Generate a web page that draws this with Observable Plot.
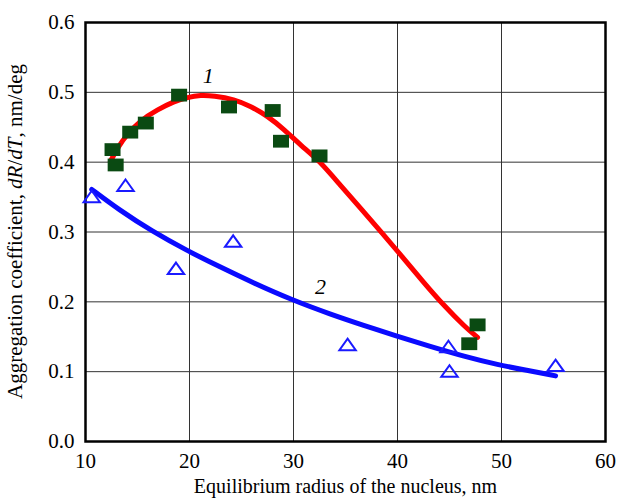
<!DOCTYPE html>
<html><head><meta charset="utf-8">
<script src="https://cdn.jsdelivr.net/npm/d3@7"></script>
<script src="https://cdn.jsdelivr.net/npm/@observablehq/plot@0.6"></script>
<style>html,body{margin:0;padding:0;background:#fff;overflow:hidden}</style>
</head><body><div id="chart"></div>
<script>
// Series 1: filled squares (experiment) and fitted red curve
const squareX = [12.6, 12.9, 14.3, 15.8, 19.0, 23.8, 28.0, 28.8, 32.5, 46.9, 47.7];
const squareY = [0.418, 0.396, 0.443, 0.456, 0.496, 0.479, 0.474, 0.430, 0.409, 0.140, 0.167];
const curve1X = [12.4, 13.05, 14.0, 15.3, 16.9, 18.5, 19.8, 21.1, 22.3, 24.3, 25.9, 27.5, 29.1, 30.7, 32.5, 34.5, 36.5, 38.5, 40.5, 42.5, 44.5, 46.5, 47.7];
const curve1Y = [0.401, 0.420, 0.440, 0.460, 0.475, 0.487, 0.493, 0.496, 0.495, 0.490, 0.480, 0.466, 0.447, 0.424, 0.402, 0.367, 0.333, 0.299, 0.264, 0.228, 0.194, 0.164, 0.149];
// Series 2: open triangles and fitted blue curve
const triX = [10.6, 13.85, 18.7, 24.2, 35.2, 44.9, 45.0, 55.2];
const triY = [0.351, 0.367, 0.248, 0.287, 0.139, 0.136, 0.101, 0.109];
const curve2X = [10.6, 13.2, 16.4, 19.8, 22.8, 26.0, 29.8, 33.6, 36.8, 39.7, 43.2, 46.4, 49.6, 52.8, 55.2];
const curve2Y = [0.361, 0.332, 0.301, 0.273, 0.251, 0.228, 0.203, 0.182, 0.166, 0.152, 0.136, 0.122, 0.110, 0.101, 0.094];
// Curve labels
const labelText = ["1", "2"];
const labelX = [21.8, 32.6];
const labelY = [0.523, 0.221];
// Ticks
const xTicks = [10, 20, 30, 40, 50, 60];
const yTicks = [0.0, 0.1, 0.2, 0.3, 0.4, 0.5, 0.6];
const xTitle = "Equilibrium radius of the nucleus, nm";

const squares = squareX.map((x, i) => ({x, y: squareY[i]}));
const tris = triX.map((x, i) => ({x, y: triY[i]}));
const c1 = curve1X.map((x, i) => ({x, y: curve1Y[i]}));
const c2 = curve2X.map((x, i) => ({x, y: curve2Y[i]}));
const labels = labelText.map((t, i) => ({t, x: labelX[i], y: labelY[i]}));

// slightly flattened marker shapes, as in the reference
const rectSymbol = {draw(ctx, size) {
  const r = Math.sqrt(size / Math.PI), w = r, h = r * 0.8;
  ctx.moveTo(-w, -h); ctx.lineTo(w, -h); ctx.lineTo(w, h); ctx.lineTo(-w, h); ctx.closePath();
}};
const triSymbol = {draw(ctx, size) {
  const r = Math.sqrt(size / Math.PI), w = r, h = r * 0.7;
  ctx.moveTo(0, -h); ctx.lineTo(w, h); ctx.lineTo(-w, h); ctx.closePath();
}};

const FONT = "'Liberation Serif', 'Times New Roman', Times, serif";
const plot = Plot.plot({
  width: 617, height: 499,
  marginLeft: 85, marginRight: 12, marginTop: 22, marginBottom: 58,
  style: {fontFamily: FONT, fontSize: "21px", background: "#fff", color: "#000"},
  x: {domain: [10, 60]},
  y: {domain: [0, 0.6]},
  marks: [
    Plot.gridX(xTicks, {stroke: "#333", strokeOpacity: 1, strokeWidth: 1}),
    Plot.gridY(yTicks, {stroke: "#333", strokeOpacity: 1, strokeWidth: 1}),
    Plot.frame({stroke: "#000", strokeWidth: 2.5}),
    Plot.axisX(xTicks, {tickSize: 0, tickPadding: 12, tickFormat: d => String(d), label: null, fontSize: 21}),
    Plot.axisY(yTicks, {tickSize: 0, tickPadding: 11, tickFormat: d => d.toFixed(1), label: null, fontSize: 21}),
    Plot.line(c1, {x: "x", y: "y", stroke: "#ff0000", strokeWidth: 5, curve: "basis"}),
    Plot.line(c2, {x: "x", y: "y", stroke: "#0a0aff", strokeWidth: 5, curve: "basis"}),
    Plot.dot(squares, {x: "x", y: "y", symbol: rectSymbol, r: 8, fill: "#0a4a12", stroke: "none"}),
    Plot.dot(tris, {x: "x", y: "y", symbol: triSymbol, r: 8.2, fill: "none", stroke: "#1a1aff", strokeWidth: 2}),
    Plot.text(labels, {x: "x", y: "y", text: "t", fontStyle: "italic", fontSize: 22, fill: "#000"}),
    Plot.text([xTitle], {frameAnchor: "bottom", dy: 51, fontSize: 20, fill: "#000"})
  ]
});
document.getElementById("chart").appendChild(plot);

// Y-axis title with italic math parts
const svg = d3.select(plot);
const yt = svg.append("text")
  .attr("transform", "translate(22,231.5) rotate(-90)")
  .attr("text-anchor", "middle")
  .attr("font-size", 21)
  .attr("fill", "#000");
yt.append("tspan").text("Aggregation coefficient, ");
yt.append("tspan").attr("font-style", "italic").text("dR");
yt.append("tspan").text("/");
yt.append("tspan").attr("font-style", "italic").text("dT");
yt.append("tspan").text(", nm/deg");
</script>
</body></html>
